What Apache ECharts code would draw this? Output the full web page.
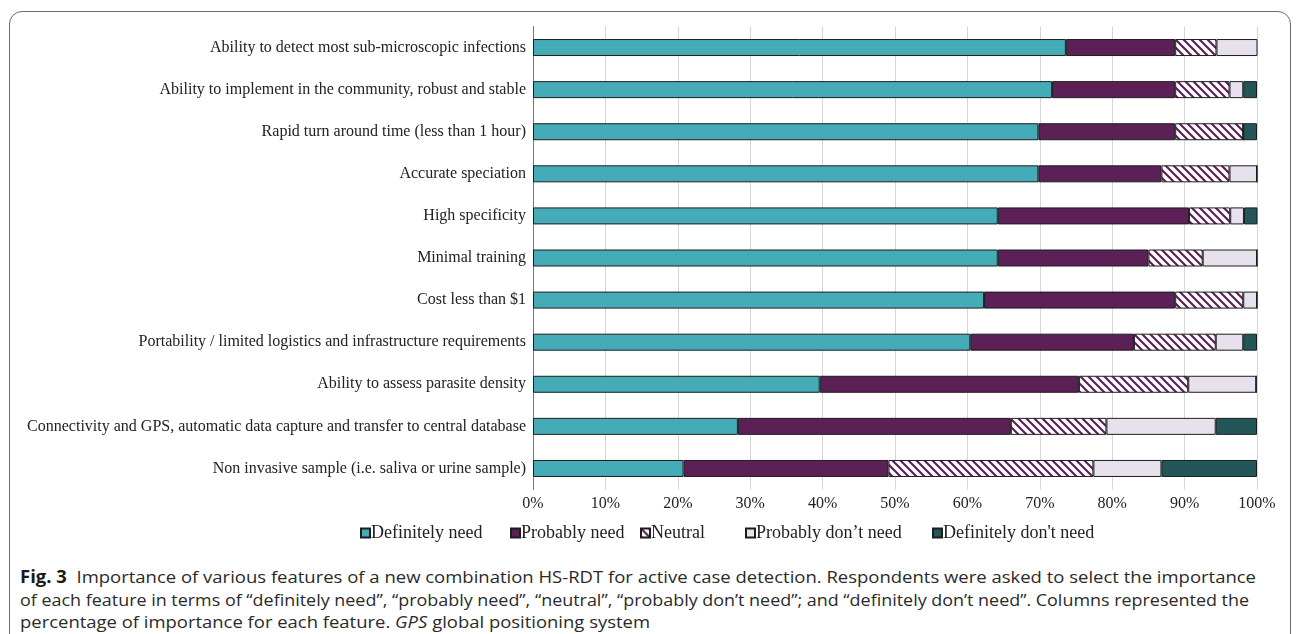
<!DOCTYPE html>
<html>
<head>
<meta charset="utf-8">
<script src="https://cdn.jsdelivr.net/npm/echarts@6/dist/echarts.min.js"></script>
<style>
  html, body { margin: 0; padding: 0; background: #fff; }
  #wrap { position: relative; width: 1296px; height: 634px; overflow: hidden; background: #fff; }
  #frame { position: absolute; left: 9px; top: 11px; width: 1282px; height: 640px; border: 1.5px solid #6b6b6b; border-radius: 13px; box-sizing: border-box; }
  #chart { position: absolute; left: 0; top: 0; width: 1296px; height: 560px; }
  .cap { position: absolute; left: 20px; font-family: "Open Sans", "Noto Sans", sans-serif; font-size: 17px; color: #2a2a2a; white-space: nowrap; transform-origin: 0 0; line-height: 20px; }
  .cap b { font-weight: 700; color: #1a1a1a; }
</style>
</head>
<body>
<div id="wrap">
  <div id="frame"></div>
  <div id="chart"></div>
  <div class="cap" data-w="1236" style="top:567px"><b>Fig. 3</b>&nbsp; Importance of various features of a new combination HS-RDT for active case detection. Respondents were asked to select the importance</div>
  <div class="cap" data-w="1229" style="top:590px">of each feature in terms of “definitely need”, “probably need”, “neutral”, “probably don’t need”; and “definitely don’t need”. Columns represented the</div>
  <div class="cap" data-w="630" style="top:612px">percentage of importance for each feature. <i>GPS</i> global positioning system</div>
</div>
<script>
const categories = [
  "Ability to detect most sub-microscopic infections",
  "Ability to implement in the community, robust and stable",
  "Rapid turn around time (less than 1 hour)",
  "Accurate speciation",
  "High specificity",
  "Minimal training",
  "Cost less than $1",
  "Portability / limited logistics and infrastructure requirements",
  "Ability to assess parasite density",
  "Connectivity and GPS, automatic data capture and transfer to central database",
  "Non invasive sample (i.e. saliva or urine sample)"
];
const seriesNames = ["Definitely need", "Probably need", "Neutral", "Probably don\u2019t need", "Definitely don't need"];
const definitelyNeed   = [73.6, 71.7, 69.8, 69.8, 64.2, 64.2, 62.3, 60.4, 39.6, 28.3, 20.8];
const probablyNeed     = [15.1, 17.0, 18.9, 17.0, 26.4, 20.8, 26.4, 22.6, 35.8, 37.7, 28.3];
const neutral          = [5.7, 7.5, 9.4, 9.4, 5.7, 7.5, 9.4, 11.3, 15.1, 13.2, 28.3];
const probablyDontNeed = [5.7, 1.9, 0, 3.8, 1.9, 7.5, 1.9, 3.8, 9.4, 15.1, 9.4];
const definitelyDont   = [0, 1.9, 1.9, 0, 1.9, 0, 0, 1.9, 0, 5.7, 13.2];
const tickLabels = ["0%","10%","20%","30%","40%","50%","60%","70%","80%","90%","100%"];

// hatch pattern for Neutral
const hatch = document.createElement('canvas');
hatch.width = 8; hatch.height = 8;
(function(){
  const c = hatch.getContext('2d');
  c.fillStyle = '#ffffff'; c.fillRect(0,0,8,8);
  c.strokeStyle = '#5b2157'; c.lineWidth = 2.2;
  c.beginPath();
  c.moveTo(-2,-2); c.lineTo(10,10);
  c.moveTo(-10,-2); c.lineTo(2,10);
  c.moveTo(6,-2); c.lineTo(18,10);
  c.stroke();
})();

const colors = ['#45abb6', '#5b2157', {image: hatch, repeat: 'repeat'}, '#e6e1ed', '#235659'];
const dataSets = [definitelyNeed, probablyNeed, neutral, probablyDontNeed, definitelyDont];
const legendLefts = [360, 510, 640, 745, 932];

const chart = echarts.init(document.getElementById('chart'), null, {renderer: 'canvas'});
const serif = '"Liberation Serif", "Times New Roman", serif';
chart.setOption({
  animation: false,
  grid: { left: 533, right: 39, top: 26.5, bottom: 70.5, containLabel: false },
  xAxis: {
    type: 'value', min: 0, max: 100, interval: 10,
    axisLine: { show: false }, axisTick: { show: false },
    splitLine: { show: true, lineStyle: { color: '#d6d6d6', width: 1 } },
    axisLabel: { formatter: v => tickLabels[Math.round(v/10)], fontFamily: serif, fontSize: 16, color: '#222', margin: 6 }
  },
  yAxis: {
    type: 'category', data: categories, inverse: true,
    axisLine: { show: true, lineStyle: { color: '#777', width: 1 } },
    axisTick: { show: false },
    axisLabel: { fontFamily: serif, fontSize: 16, color: '#222', margin: 7 }
  },
  legend: seriesNames.map((n, i) => ({
    data: [n], left: legendLefts[i], top: 524, itemWidth: 9, itemHeight: 9, padding: 0,
    textStyle: { fontFamily: serif, fontSize: 18, color: '#222', padding: [0,0,0,-4] },
    icon: 'rect'
  })),
  series: seriesNames.map((n, i) => ({
    name: n, type: 'bar', stack: 'all', data: dataSets[i], barWidth: 17,
    itemStyle: { color: colors[i], borderColor: '#1d1d1d', borderWidth: 1 },
    emphasis: { disabled: true }
  }))
});

// fit each caption line to its width in the reference
document.querySelectorAll('.cap').forEach(el => {
  const w = el.getBoundingClientRect().width;
  el.style.transform = 'scaleX(' + (+el.dataset.w / w) + ')';
});
</script>
</body>
</html>
